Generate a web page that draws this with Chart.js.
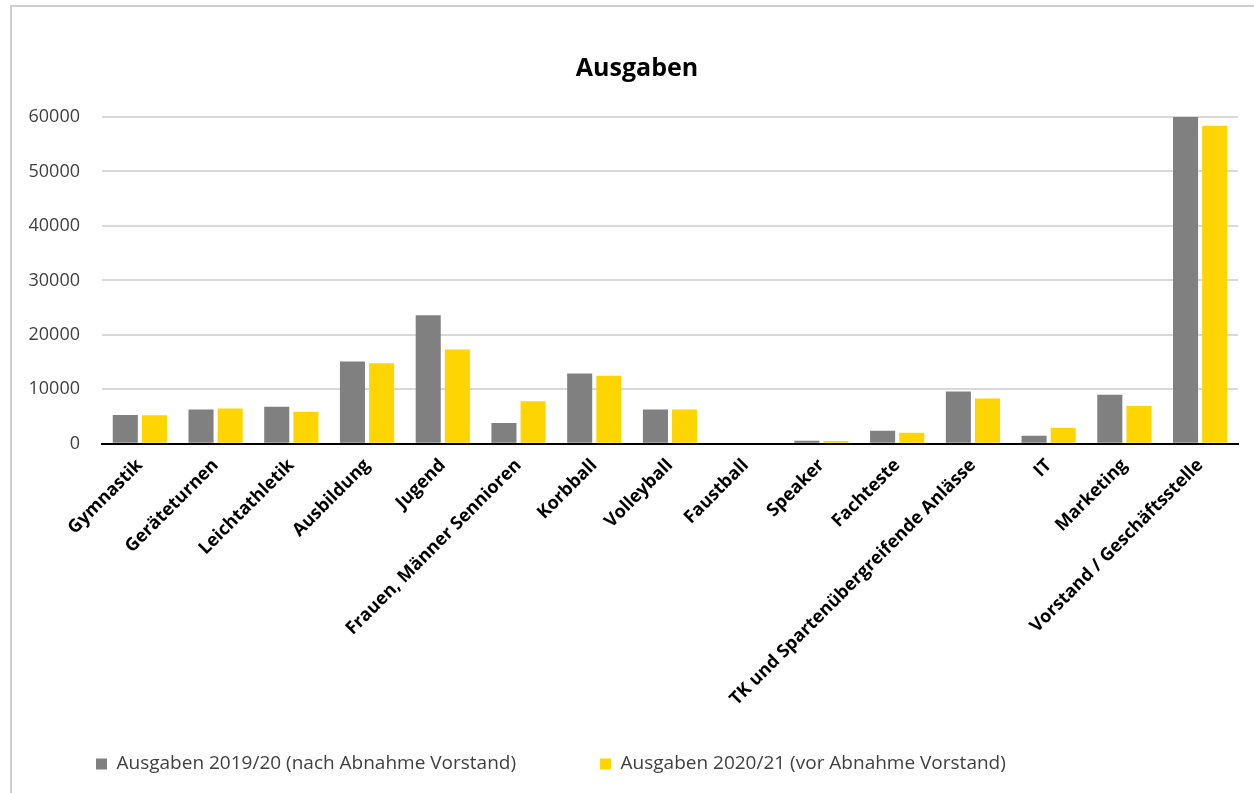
<!DOCTYPE html>
<html>
<head>
<meta charset="utf-8">
<script src="https://cdn.jsdelivr.net/npm/chart.js@4/dist/chart.umd.min.js"></script>
<style>
  html, body { margin: 0; padding: 0; background: #fff; }
  #frame { position: absolute; left: 10px; top: 5px; width: 1300px; height: 850px; border: 2px solid #cfcfcf; }
  #wrap { position: absolute; left: 0; top: 0; width: 1254px; height: 793px; }
</style>
</head>
<body>
<div id="frame"></div>
<div id="wrap"><canvas id="chart"></canvas></div>
<script>
// Kategorien
const categories = [
  'Gymnastik', 'Geräteturnen', 'Leichtathletik', 'Ausbildung', 'Jugend',
  'Frauen, Männer Sennioren', 'Korbball', 'Volleyball', 'Faustball', 'Speaker',
  'Fachteste', 'TK und Spartenübergreifende Anlässe', 'IT', 'Marketing',
  'Vorstand / Geschäftsstelle'
];

// Ausgaben 2019/20 (nach Abnahme Vorstand)
const ausgaben1920 = [5300, 6300, 6800, 15100, 23600, 3800, 12900, 6300, 0, 550, 2400, 9600, 1500, 9000, 60200];

// Ausgaben 2020/21 (vor Abnahme Vorstand)
const ausgaben2021 = [5250, 6500, 5900, 14800, 17300, 7800, 12500, 6300, 0, 500, 2050, 8300, 2950, 6950, 58400];

const yTicks = [0, 10000, 20000, 30000, 40000, 50000, 60000];

const seriesNames = ['Ausgaben 2019/20 (nach Abnahme Vorstand)', 'Ausgaben 2020/21 (vor Abnahme Vorstand)'];
const seriesColors = ['#808080', '#FFD500'];

const font = '"Open Sans", Lato, sans-serif';

// Titel etwas nach rechts schieben (wie im Original)
const titleShift = {
  id: 'titleShift',
  afterLayout(chart) {
    if (chart.titleBlock) chart.titleBlock.left += 24;
  }
};

new Chart(document.getElementById('chart').getContext('2d'), {
  type: 'bar',
  data: {
    labels: categories,
    datasets: [
      { label: seriesNames[0], data: ausgaben1920, backgroundColor: seriesColors[0], barPercentage: 0.86, categoryPercentage: 0.77 },
      { label: seriesNames[1], data: ausgaben2021, backgroundColor: seriesColors[1], barPercentage: 0.86, categoryPercentage: 0.77 }
    ]
  },
  plugins: [titleShift],
  options: {
    responsive: true,
    maintainAspectRatio: false,
    animation: false,
    layout: { padding: { left: 12, right: 16, top: 0, bottom: 9.6 } },
    plugins: {
      title: {
        display: true,
        text: 'Ausgaben',
        color: '#000',
        font: { family: font, size: 25, weight: 'bold' },
        padding: { top: 54, bottom: 33 }
      },
      legend: {
        position: 'bottom',
        align: 'start',
        labels: {
          boxWidth: 11,
          boxHeight: 11,
          padding: 84,
          color: '#404040',
          font: { family: font, size: 19 }
        }
      },
      tooltip: { enabled: false }
    },
    scales: {
      x: {
        grid: { display: false },
        border: { display: true, color: '#000', width: 2 },
        ticks: {
          minRotation: 45,
          maxRotation: 45,
          autoSkip: false,
          color: '#000',
          font: { family: font, size: 18, weight: 'bold' }
        },
        afterFit: (scale) => {
          scale.height = 226.6;
          // lange Beschriftungen nicht abschneiden
          scale._computeLabelArea = () => null;
        }
      },
      y: {
        min: 0,
        max: 60000,
        afterBuildTicks: (scale) => { scale.ticks = yTicks.map(v => ({ value: v })); },
        grid: { color: '#d9d9d9', lineWidth: 2, drawTicks: false },
        border: { display: false },
        ticks: {
          padding: 22,
          color: '#404040',
          font: { family: font, size: 18 },
          callback: (v) => String(v)
        },
        afterFit: (scale) => { scale.width = 90; }
      }
    }
  }
});
</script>
</body>
</html>
